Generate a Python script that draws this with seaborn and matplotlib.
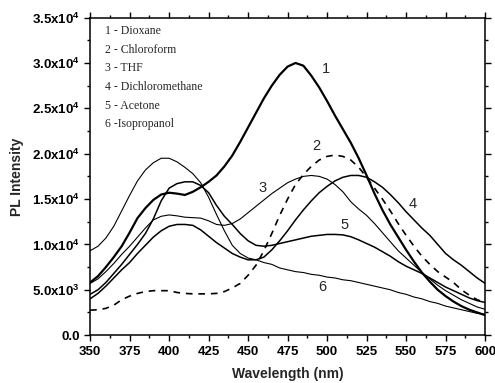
import numpy as np
import pandas as pd
import matplotlib
matplotlib.use("Agg")
import matplotlib.pyplot as plt
from matplotlib.ticker import MultipleLocator, FuncFormatter
import seaborn as sns

# wavelength grid (nm), 5 nm steps
wavelength = list(range(350, 601, 5))

# PL intensity, one list per solvent
dioxane = [5800, 6500, 7500, 8600, 9800, 11300, 12900, 14000, 14900, 15500,
           15700, 15600, 15450, 15800, 16300, 16900, 17600, 18600, 19800, 21300,
           22900, 24500, 26100, 27500, 28700, 29600, 30000, 29700, 28600, 27300,
           25800, 24200, 22700, 21200, 19500, 17600, 15600, 13800, 12200, 10800,
           9400, 8100, 6900, 5900, 5000, 4300, 3700, 3200, 2800, 2500, 2200]
chloroform = [2750, 2800, 2950, 3300, 3900, 4300, 4600, 4800, 4900, 4900,
              4900, 4700, 4600, 4550, 4550, 4550, 4600, 4800, 5200, 5700,
              6600, 7700, 9300, 11200, 13200, 15000, 16600, 17700, 18600, 19300,
              19700, 19850, 19700, 19300, 18500, 17400, 16200, 15000, 13700, 12300,
              11000, 9800, 8700, 7800, 7000, 6400, 5800, 5000, 4400, 3900, 3600]
thf = [5700, 6200, 7000, 7900, 8900, 9800, 10800, 11800, 12700, 13100,
       13250, 13150, 13000, 12950, 12900, 12600, 12200, 12100, 12300, 12800,
       13500, 14200, 14900, 15600, 16200, 16800, 17200, 17500, 17600, 17500,
       17200, 16600, 15800, 14700, 13900, 13200, 12300, 11300, 10300, 9300,
       8500, 7700, 6900, 6200, 5500, 4900, 4400, 3900, 3500, 3100, 2850]
dichloromethane = [4000, 4600, 5400, 6300, 7200, 8000, 9000, 9900, 10800, 11500,
                   12000, 12200, 12200, 12100, 11600, 10900, 10200, 9600, 9000, 8600,
                   8300, 8300, 8600, 9400, 10400, 11500, 12700, 13800, 14800, 15700,
                   16400, 17000, 17400, 17600, 17600, 17400, 16900, 16300, 15500, 14600,
                   13600, 12700, 11800, 11000, 10000, 9000, 8300, 7700, 7000, 6300, 5700]
acetone = [4500, 5000, 5800, 6800, 7800, 8900, 10000, 11200, 12800, 14800,
           16200, 16700, 16900, 16900, 16500, 15700, 14300, 13100, 12200, 11200,
           10400, 9900, 9800, 9900, 10100, 10300, 10500, 10700, 10900, 11000,
           11100, 11100, 11050, 10850, 10500, 10100, 9700, 9200, 8700, 8100,
           7600, 7200, 6800, 6300, 5800, 5300, 4900, 4500, 4100, 3800, 3600]
isopropanol = [9300, 9800, 10700, 12000, 13700, 15400, 17000, 18200, 19000, 19500,
               19500, 19100, 18500, 17800, 16800, 15200, 13300, 11500, 9900, 9000,
               8500, 8300, 8000, 7800, 7400, 7200, 7000, 6900, 6700, 6600,
               6400, 6300, 6100, 6000, 5800, 5600, 5400, 5200, 5000, 4700,
               4500, 4200, 4000, 3700, 3500, 3200, 3000, 2800, 2600, 2400, 2300]

legend_lines = ["1 - Dioxane", "2 - Chloroform", "3 - THF",
                "4 - Dichloromethane", "5 - Acetone", "6 -Isopropanol"]
curve_tags = ["1", "2", "3", "4", "5", "6"]
tag_x = [499, 493, 459, 554, 511, 497]
tag_y = [29300, 20800, 16200, 14500, 12100, 5300]

df = pd.DataFrame({
    "wavelength": wavelength * 6,
    "intensity": dioxane + chloroform + thf + dichloromethane + acetone + isopropanol,
    "curve": sum([[t] * len(wavelength) for t in curve_tags], []),
})

sns.set_style("ticks")
plt.rcParams["font.family"] = ["Liberation Sans", "DejaVu Sans"]
plt.rcParams["mathtext.fontset"] = "custom"
plt.rcParams["mathtext.rm"] = "Liberation Sans:bold"
plt.rcParams["mathtext.bf"] = "Liberation Sans:bold"
plt.rcParams["mathtext.default"] = "bf"

fig = plt.figure(figsize=(4.95, 3.83), dpi=100)
ax = fig.add_axes([0.182, 0.125, 0.798, 0.829])

widths = {"1": 1.6, "2": 1.2, "3": 0.8, "4": 1.1, "5": 1.1, "6": 0.8}
for tag in curve_tags:
    sub = df[df["curve"] == tag]
    sns.lineplot(data=sub, x="wavelength", y="intensity", ax=ax, color="black",
                 lw=widths[tag], linestyle=(0, (4, 3.5)) if tag == "2" else "-")

for t, x, y in zip(curve_tags, tag_x, tag_y):
    ax.text(x, y, t, fontsize=10.5, ha="center", va="center")

for i, line in enumerate(legend_lines):
    ax.text(0.038, 0.957 - i * 0.0585, line, transform=ax.transAxes,
            family="Liberation Serif", fontsize=8.5, va="center")

ax.set_xlim(350, 600)
ax.set_ylim(0, 35000)
ax.xaxis.set_major_locator(MultipleLocator(25))
ax.xaxis.set_minor_locator(MultipleLocator(12.5))
ax.yaxis.set_major_locator(MultipleLocator(5000))
ax.yaxis.set_minor_locator(MultipleLocator(2500))


def ylab(v, pos):
    if v == 0:
        return "0.0"
    if v < 10000:
        return "%.1fx10$^{3}$" % (v / 1000)
    return "%.1fx10$^{4}$" % (v / 10000)


ax.yaxis.set_major_formatter(FuncFormatter(ylab))
ax.tick_params(which="both", direction="out", top=True, right=True, width=1, colors="black")
ax.tick_params(which="major", length=4, labelsize=9.5)
ax.tick_params(which="minor", length=2.5)
for lab in ax.get_xticklabels() + ax.get_yticklabels():
    lab.set_fontweight("bold")
for s in ax.spines.values():
    s.set_linewidth(1.1)
    s.set_color("black")

ax.set_xlabel("Wavelength (nm)", fontsize=10, fontweight="bold", labelpad=7)
ax.set_ylabel("PL Intensity", fontsize=10, fontweight="bold", labelpad=6)

fig.savefig("out.png", dpi=100)
